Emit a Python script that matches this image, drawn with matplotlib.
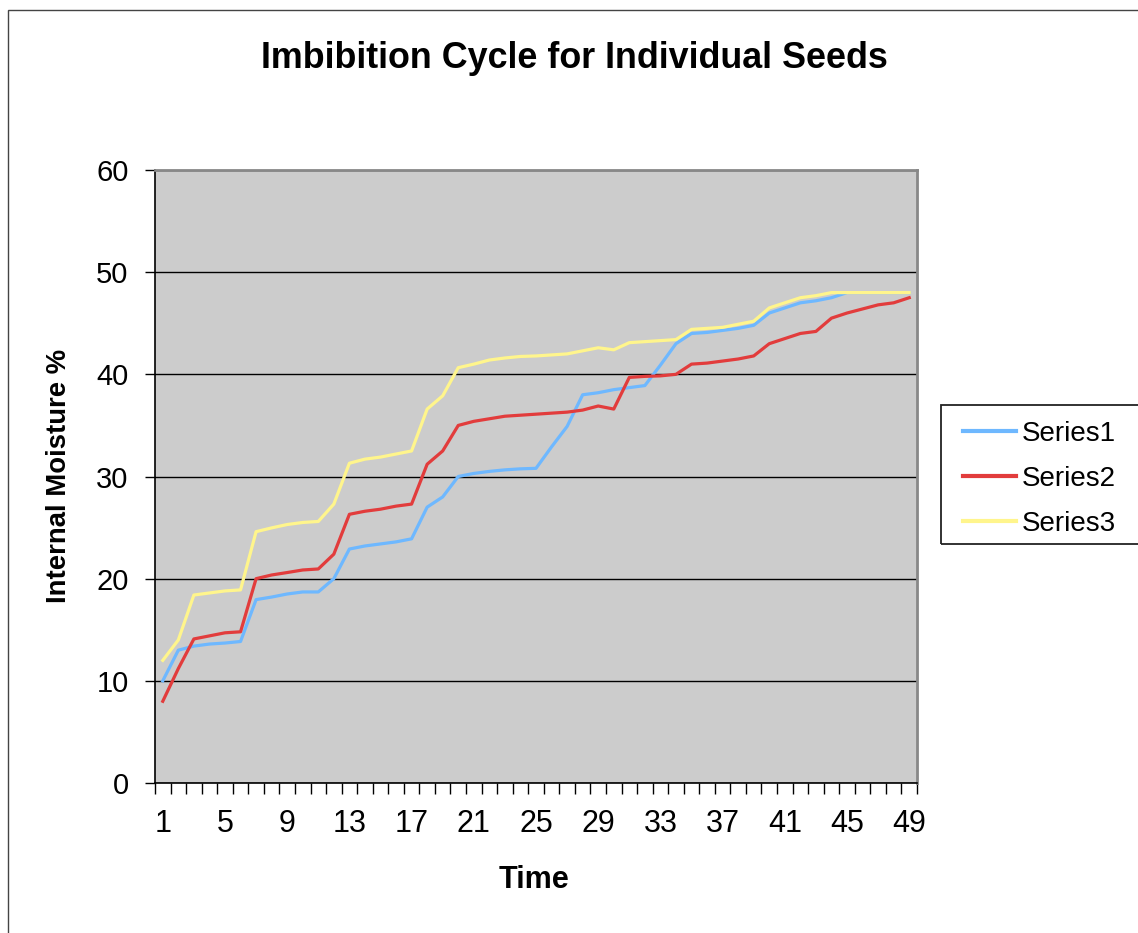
import matplotlib
matplotlib.use("Agg")
import matplotlib.pyplot as plt
from matplotlib.patches import Rectangle
from matplotlib.ticker import FixedLocator

plt.rcParams['font.family'] = ['Liberation Sans', 'DejaVu Sans']

# Time steps 1..49
time = list(range(1, 50))

series1 = [10.0, 13.0, 13.4, 13.6, 13.7, 13.85, 17.95, 18.2, 18.5, 18.7,
           18.7, 20.0, 22.9, 23.2, 23.4, 23.6, 23.9, 27.0, 28.0, 30.0,
           30.3, 30.5, 30.65, 30.75, 30.8, 32.9, 34.9, 38.0, 38.2, 38.5,
           38.7, 38.9, 40.9, 43.0, 44.0, 44.1, 44.3, 44.5, 44.8, 46.0,
           46.5, 47.0, 47.2, 47.5, 48.0, 48.0, 48.0, 48.0, 48.0]

series2 = [8.0, 11.2, 14.1, 14.4, 14.7, 14.8, 20.0, 20.36, 20.6, 20.85,
           20.95, 22.4, 26.3, 26.6, 26.8, 27.1, 27.3, 31.2, 32.5, 35.0,
           35.4, 35.65, 35.9, 36.0, 36.1, 36.2, 36.3, 36.5, 36.9, 36.6,
           39.7, 39.8, 39.85, 40.0, 41.0, 41.1, 41.3, 41.5, 41.8, 43.0,
           43.5, 44.0, 44.2, 45.5, 46.0, 46.4, 46.8, 47.0, 47.5]

series3 = [12.0, 14.0, 18.4, 18.6, 18.8, 18.9, 24.6, 24.97, 25.3, 25.5,
           25.6, 27.3, 31.3, 31.7, 31.9, 32.2, 32.5, 36.6, 37.9, 40.65,
           41.0, 41.4, 41.6, 41.75, 41.8, 41.9, 42.0, 42.3, 42.6, 42.4,
           43.1, 43.2, 43.3, 43.4, 44.4, 44.5, 44.6, 44.9, 45.2, 46.5,
           47.0, 47.5, 47.7, 48.0, 48.0, 48.0, 48.0, 48.0, 48.0]

labels = ["Series1", "Series2", "Series3"]
colors = ["#6EB8FF", "#E23C3C", "#FFF58C"]

fig = plt.figure(figsize=(11.38, 9.33), dpi=100)
W, H = 1138, 933

# outer chart border
fig.patches.append(Rectangle((8 / W, -0.05), 1.2, (H - 10) / H + 0.05,
                             transform=fig.transFigure, fill=False,
                             edgecolor="#444444", linewidth=1.0))

ax = fig.add_axes([155 / W, (H - 783) / H, (917 - 155) / W, (783 - 170) / H])
ax.set_facecolor("#CCCCCC")

for vals, lab, col in zip([series1, series2, series3], labels, colors):
    ax.plot(time, vals, color=col, linewidth=2.3, label=lab, solid_joinstyle="round")

ax.set_xlim(0.5, 49.5)
ax.set_ylim(0, 60)
ax.set_yticks(range(0, 61, 10))
ax.yaxis.grid(True, color="black", linewidth=1.0)
ax.set_axisbelow(True)

ax.set_xticks(range(1, 50, 4))
ax.xaxis.set_minor_locator(FixedLocator([i + 0.5 for i in range(0, 50)]))
ax.tick_params(axis="x", which="major", length=0, pad=19, labelsize=22)
ax.tick_params(axis="x", which="minor", length=8, width=1, color="black", direction="out")
ax.tick_params(axis="y", which="major", length=7, width=1, pad=12, labelsize=21, direction="out")

for side in ["top", "right"]:
    ax.spines[side].set_color("#888888")
    ax.spines[side].set_linewidth(2)
ax.spines["left"].set_color("black")
ax.spines["bottom"].set_color("black")
ax.spines["left"].set_linewidth(1.2)
ax.spines["bottom"].set_linewidth(1.2)

fig.text(574 / W, 1 - 58 / H, "Imbibition Cycle for Individual Seeds",
         ha="center", va="center", fontsize=25.8, fontweight="bold")
fig.text(534 / W, 1 - 880 / H, "Time", ha="center", va="center",
         fontsize=22, fontweight="bold")
fig.text(59 / W, 1 - 476 / H, "Internal Moisture %", ha="center", va="center",
         rotation=90, fontsize=19.8, fontweight="bold")

# legend frame runs past the right edge, as in the original
fig.patches.append(Rectangle((941 / W, 1 - 544 / H), 0.3, 139 / H,
                             transform=fig.transFigure, fill=False,
                             edgecolor="#222222", linewidth=1.3))
leg = fig.legend(loc="center left", bbox_to_anchor=(963 / W, 1 - 479 / H),
                 fontsize=20, frameon=False,
                 handlelength=1.9, handletextpad=0.2, borderpad=0,
                 labelspacing=0.68, borderaxespad=0)
for line in leg.get_lines():
    line.set_linewidth(3)

fig.savefig("out.png", dpi=100)
